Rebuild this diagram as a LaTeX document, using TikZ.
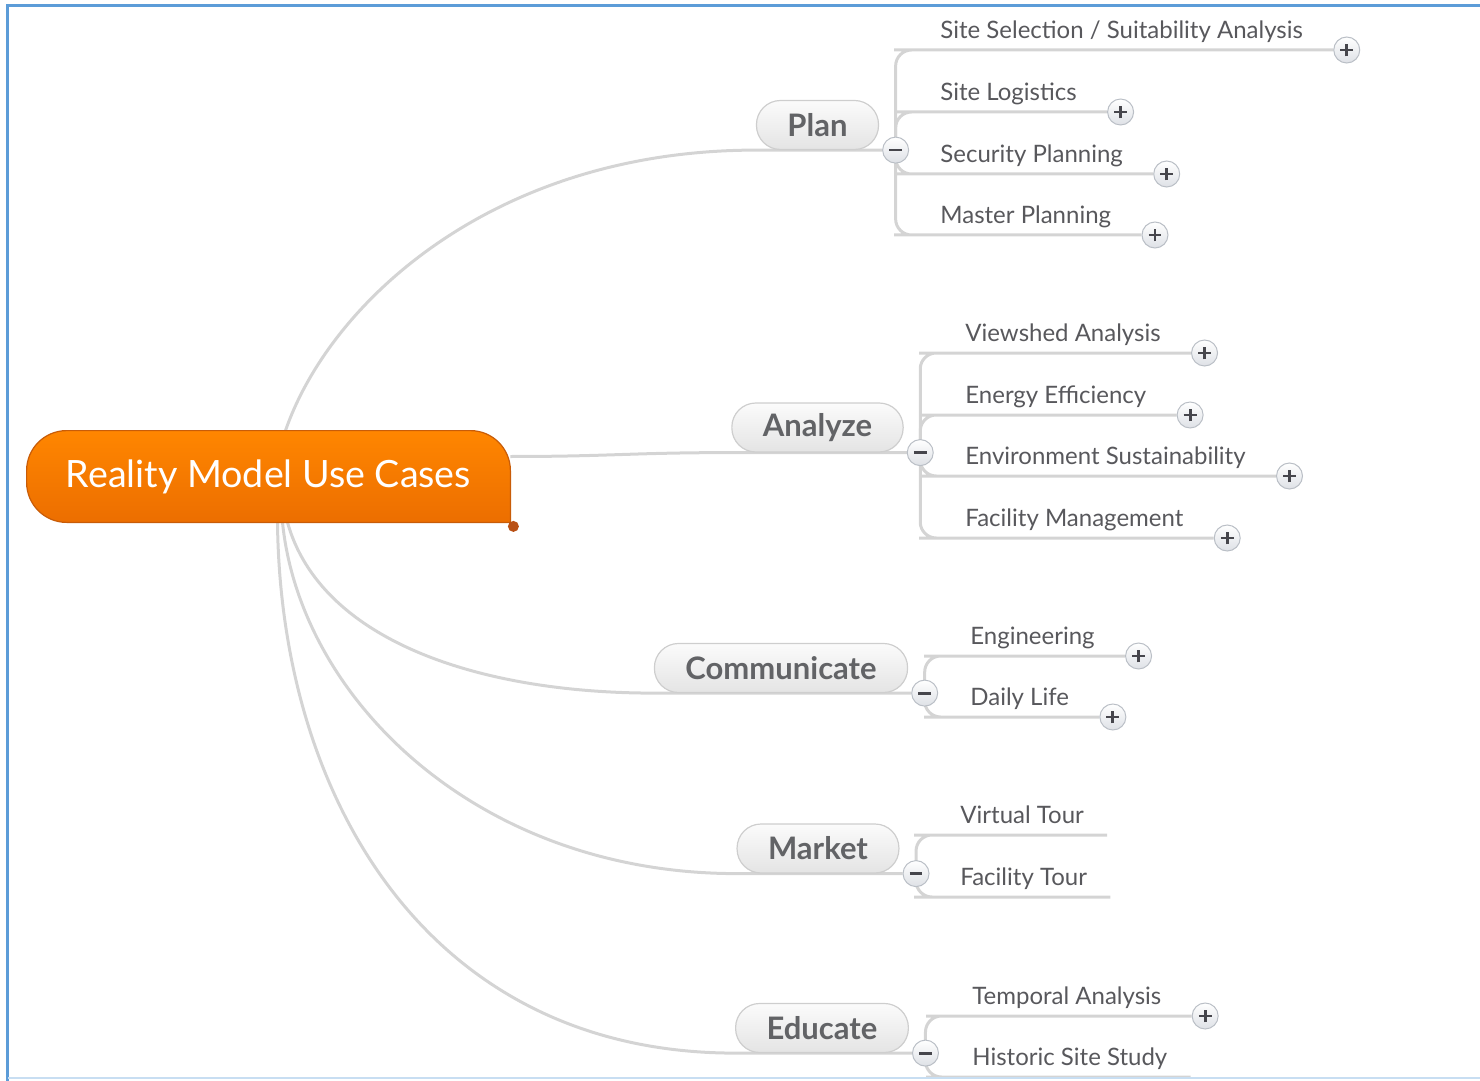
\documentclass[tikz,border=0pt]{standalone}
\usepackage{fontspec}
\setmainfont{Lato}
\usepackage{tikz}
\usetikzlibrary{positioning}
\definecolor{frameblue}{RGB}{92,156,216}
\definecolor{framelight}{RGB}{200,222,242}
\definecolor{linkgray}{RGB}{212,212,212}
\definecolor{rootA}{RGB}{255,134,0}
\definecolor{rootB}{RGB}{236,110,0}
\definecolor{rootedge}{RGB}{200,92,8}
\definecolor{rootdotc}{RGB}{185,80,20}
\definecolor{topicA}{RGB}{251,251,251}
\definecolor{topicB}{RGB}{228,228,228}
\definecolor{topicedge}{RGB}{206,206,206}
\definecolor{topictext}{RGB}{98,99,102}
\definecolor{leaftext}{RGB}{88,88,92}
\definecolor{knobB}{RGB}{222,225,230}
\definecolor{knobedge}{RGB}{186,191,198}
\definecolor{knobsign}{RGB}{70,70,76}
\pgfdeclarelayer{background}
\pgfsetlayers{background,main}
\tikzset{
  rootbox/.style={minimum width=241.5pt, minimum height=45.5pt, inner sep=0pt, text=white, font=\fontsize{18.8}{22}\selectfont},
  rootshape/.style={draw=rootedge, line width=0.6pt, top color=rootA, bottom color=rootB, rounded corners=20pt},
  rootdot/.style={circle, fill=rootdotc, inner sep=0pt, minimum size=5.5pt},
  topic/.style={draw=topicedge, line width=0.6pt, rounded corners=12pt, top color=topicA, bottom color=topicB,
                minimum height=24.5pt, inner xsep=15.5pt, inner ysep=0pt, text=topictext,
                font=\fontsize{15.5}{18}\selectfont\bfseries},
  subtopic/.style={anchor=south west, inner xsep=15pt, inner ysep=0pt, text height=9.5pt, text depth=5.7pt,
                   text=leaftext, font=\fontsize{12}{14}\selectfont},
  knob/.style={circle, draw=knobedge, line width=0.5pt, top color=white, bottom color=knobB, minimum size=13pt, inner sep=0pt},
  collapse/.style={knob, path picture={
      \draw[line width=1.4pt, knobsign] ([xshift=-3.2pt]path picture bounding box.center) -- ([xshift=3.2pt]path picture bounding box.center);}},
  expand/.style={knob, path picture={
      \draw[line width=1.4pt, knobsign] ([xshift=-3.2pt]path picture bounding box.center) -- ([xshift=3.2pt]path picture bounding box.center)
        ([yshift=-3.2pt]path picture bounding box.center) -- ([yshift=3.2pt]path picture bounding box.center);}},
  link/.style={draw=linkgray, line width=1.5pt},
  twig/.style={link, rounded corners=8pt},
}

\begin{document}
\begin{tikzpicture}[x=0.5pt, y=-0.5pt]
  \useasboundingbox (0,0) rectangle (1480,1081);
  \draw[line width=1.5pt, frameblue] (7,1081) -- (7,6) -- (1480,6);
  \draw[line width=1pt, framelight] (8,1078) -- (1480,1078);

  % central topic
  \node[rootbox] (root) at (268.5,476.5) {Reality Model Use Cases};
  \node[rootdot] (rdot) at ([shift={(3,4)}]root.south east) {};

  % main topics
  \node[topic] (plan) at (817.5,125) {Plan};
  \node[topic] (analyze) at (817.5,427.5) {Analyze};
  \node[topic] (comm) at (781,668) {Communicate};
  \node[topic] (market) at (818,848.5) {Market};
  \node[topic] (educate) at (822,1028) {Educate};

  \node[collapse, right=1.5pt of plan.south east] (planm) {};
  \node[collapse, right=1.5pt of analyze.south east] (analyzem) {};
  \node[collapse, right=1.5pt of comm.south east] (commm) {};
  \node[collapse, right=1.5pt of market.south east] (marketm) {};
  \node[collapse, right=1.5pt of educate.south east] (educatem) {};

  % subtopics
  \node[subtopic] (plan1) at (910,50) {Site Selection / Suitability Analysis};
  \node[subtopic] (plan2) at (910,112) {Site Logistics};
  \node[subtopic] (plan3) at (910,174) {Security Planning};
  \node[subtopic] (plan4) at (910,235) {Master Planning};
  \node[expand, right=0pt of plan1.south east] (plan1x) {};
  \node[expand, right=0pt of plan2.south east] (plan2x) {};
  \node[expand, right=0pt of plan3.south east] (plan3x) {};
  \node[expand, right=0pt of plan4.south east] (plan4x) {};

  \node[subtopic] (analyze1) at (935,353) {Viewshed Analysis};
  \node[subtopic] (analyze2) at (935,415) {Energy Efficiency};
  \node[subtopic] (analyze3) at (935,476) {Environment Sustainability};
  \node[subtopic] (analyze4) at (935,538) {Facility Management};
  \node[expand, right=0pt of analyze1.south east] (analyze1x) {};
  \node[expand, right=0pt of analyze2.south east] (analyze2x) {};
  \node[expand, right=0pt of analyze3.south east] (analyze3x) {};
  \node[expand, right=0pt of analyze4.south east] (analyze4x) {};

  \node[subtopic] (comm1) at (940,656) {Engineering};
  \node[subtopic] (comm2) at (940,717) {Daily Life};
  \node[expand, right=0pt of comm1.south east] (comm1x) {};
  \node[expand, right=0pt of comm2.south east] (comm2x) {};

  \node[subtopic] (market1) at (930,835) {Virtual Tour};
  \node[subtopic] (market2) at (930,897) {Facility Tour};

  \node[subtopic] (educate1) at (942,1016) {Temporal Analysis};
  \node[subtopic] (educate2) at (942,1077) {Historic Site Study};
  \node[expand, right=0pt of educate1.south east] (educate1x) {};

  \begin{pgfonlayer}{background}
    \draw[link] ([xshift=8.5pt]root.north) .. controls +(45,-130) and +(-260,0) .. (plan.south west) -- (planm);
    \draw[link] ([yshift=10pt]root.east) .. controls +(100,0) and +(-100,0) .. (analyze.south west) -- (analyzem);
    \draw[link] ([xshift=9.5pt]root.south) .. controls +(33,118) and +(-175,0) .. (comm.south west) -- (commm);
    \draw[link] ([xshift=7pt]root.south) .. controls +(18,178) and +(-257,0) .. (market.south west) -- (marketm);
    \draw[link] ([xshift=4.5pt]root.south) .. controls +(3,278) and +(-305,0) .. (educate.south west) -- (educatem);

    \draw[twig] (planm.center) |- (plan1.south west) -- (plan1x);
    \draw[twig] (planm.center) |- (plan2.south west) -- (plan2x);
    \draw[twig] (planm.center) |- (plan3.south west) -- (plan3x);
    \draw[twig] (planm.center) |- (plan4.south west) -- (plan4x);
    \draw[twig] (analyzem.center) |- (analyze1.south west) -- (analyze1x);
    \draw[twig] (analyzem.center) |- (analyze2.south west) -- (analyze2x);
    \draw[twig] (analyzem.center) |- (analyze3.south west) -- (analyze3x);
    \draw[twig] (analyzem.center) |- (analyze4.south west) -- (analyze4x);
    \draw[twig] (commm.center) |- (comm1.south west) -- (comm1x);
    \draw[twig] (commm.center) |- (comm2.south west) -- (comm2x);
    \draw[twig] (marketm.center) |- (market1.south west) -- ([xshift=-3.5pt]market1.south east);
    \draw[twig] (marketm.center) |- (market2.south west) -- ([xshift=-3.5pt]market2.south east);
    \draw[twig] (educatem.center) |- (educate1.south west) -- (educate1x);
    \draw[twig] (educatem.center) |- (educate2.south west) -- ([xshift=-3.5pt]educate2.south east);

    \path[rootshape] (root.south east) -- (root.north east) -- (root.north west) -- (root.south west) -- (root.south east);
  \end{pgfonlayer}
\end{tikzpicture}
\end{document}
